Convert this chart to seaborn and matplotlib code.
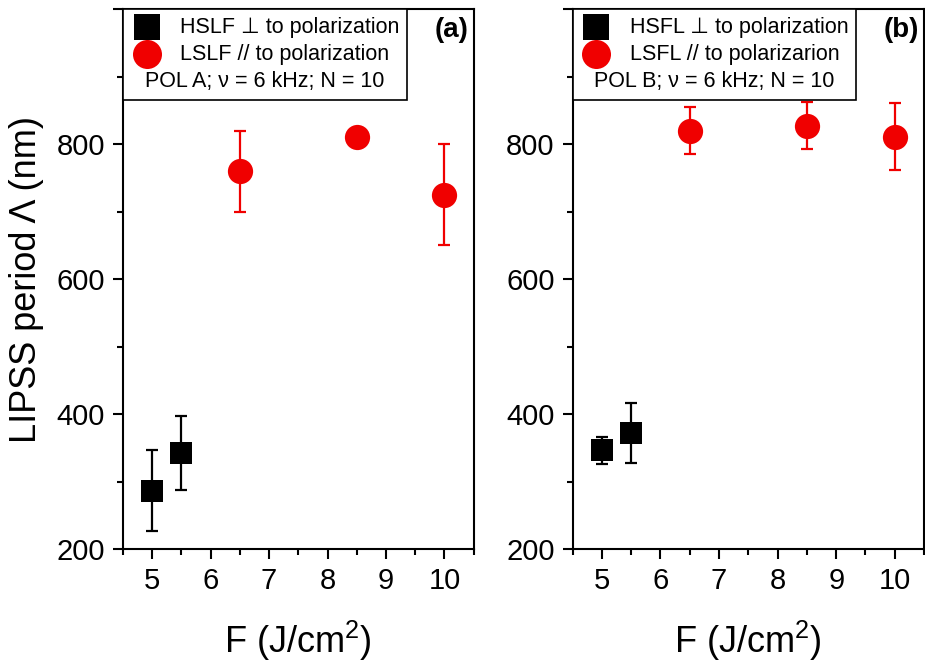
import numpy as np
import pandas as pd
import matplotlib
matplotlib.use("Agg")
import matplotlib.pyplot as plt
import seaborn as sns
from matplotlib.ticker import FixedLocator

# fluence values (J/cm2)
fluence_hsfl = [5.0, 5.5]
fluence_lsfl = [6.5, 8.5, 10.0]

# panel (a) - POL A
a_hsfl = [286, 342]
a_hsfl_err = [60, 55]
a_lsfl = [760, 810, 725]
a_lsfl_err = [60, 8, 75]

# panel (b) - POL B
b_hsfl = [346, 372]
b_hsfl_err = [20, 45]
b_lsfl = [820, 827, 811]
b_lsfl_err = [35, 35, 50]

panels = [
    dict(tag="(a)", hsfl=a_hsfl, hsfl_err=a_hsfl_err, lsfl=a_lsfl, lsfl_err=a_lsfl_err,
         lab1="HSLF \u22a5 to polarization", lab2="LSLF // to polarization",
         note="POL A; \u03bd = 6 kHz; N = 10"),
    dict(tag="(b)", hsfl=b_hsfl, hsfl_err=b_hsfl_err, lsfl=b_lsfl, lsfl_err=b_lsfl_err,
         lab1="HSFL \u22a5 to polarization", lab2="LSFL // to polarizarion",
         note="POL B; \u03bd = 6 kHz; N = 10"),
]

sns.set_theme(style="ticks")
plt.rcParams["font.family"] = ["Liberation Sans", "DejaVu Sans"]
plt.rcParams["text.color"] = "black"
plt.rcParams["axes.labelcolor"] = "black"
plt.rcParams["mathtext.fontset"] = "custom"
plt.rcParams["mathtext.rm"] = "Liberation Sans"
plt.rcParams["mathtext.default"] = "regular"

RED = "#f00000"

fig = plt.figure(figsize=(9.25, 6.65), dpi=100)
boxes = [[0.133, 0.1744, 0.379, 0.812], [0.619, 0.1744, 0.380, 0.812]]

for box, p in zip(boxes, panels):
    ax = fig.add_axes(box)
    hs = pd.DataFrame({"F": fluence_hsfl, "L": p["hsfl"], "e": p["hsfl_err"]})
    ls = pd.DataFrame({"F": fluence_lsfl, "L": p["lsfl"], "e": p["lsfl_err"]})

    ax.errorbar(hs["F"], hs["L"], yerr=hs["e"], fmt="none", ecolor="black",
                elinewidth=1.6, capsize=4.5, capthick=1.6, zorder=2)
    ax.errorbar(ls["F"], ls["L"], yerr=ls["e"], fmt="none", ecolor=RED,
                elinewidth=1.6, capsize=4.5, capthick=1.6, zorder=2)
    sns.scatterplot(data=hs, x="F", y="L", marker="s", s=245, color="black",
                    edgecolor="black", linewidth=0, label=p["lab1"], ax=ax, zorder=3)
    sns.scatterplot(data=ls, x="F", y="L", marker="o", s=330, color=RED,
                    edgecolor=RED, linewidth=0, label=p["lab2"], ax=ax, zorder=3)

    ax.set_xlim(4.5, 10.5)
    ax.set_ylim(200, 1000)
    ax.xaxis.set_major_locator(FixedLocator([5, 6, 7, 8, 9, 10]))
    ax.xaxis.set_minor_locator(FixedLocator([4.5, 5.5, 6.5, 7.5, 8.5, 9.5, 10.5]))
    ax.yaxis.set_major_locator(FixedLocator([200, 400, 600, 800, 1000]))
    ax.yaxis.set_minor_locator(FixedLocator([300, 500, 700, 900]))
    ax.set_yticklabels(["200", "400", "600", "800", ""])
    ax.tick_params(which="major", direction="out", length=7, width=1.5,
                   labelsize=21, color="black", labelcolor="black", pad=6)
    ax.tick_params(which="minor", direction="out", length=4, width=1.5, color="black")
    for sp in ax.spines.values():
        sp.set_visible(True)
        sp.set_linewidth(1.5)
        sp.set_color("black")

    ax.set_xlabel("F (J/cm$^{2}$)", fontsize=26, color="black", labelpad=17)
    ax.set_ylabel("")

    ax.text(0.985, 0.985, p["tag"], transform=ax.transAxes, ha="right", va="top",
            fontsize=20, fontweight="bold", color="black")

    leg = ax.legend(loc="upper left", bbox_to_anchor=(0, 1), borderaxespad=0,
                    fontsize=15.5, title=p["note"], title_fontsize=15.5,
                    frameon=True, fancybox=False, edgecolor="black",
                    framealpha=1, handletextpad=0.8, borderpad=0.35,
                    labelspacing=0.3, handlelength=1.5, markerscale=1.15,
                    labelcolor="black")
    leg.get_title().set_color("black")
    leg.get_frame().set_linewidth(1.2)
    # move the note line below the entries
    kids = leg._legend_box._children
    leg._legend_box._children = [kids[1], kids[0]]

fig.axes[0].set_ylabel("LIPSS period \u039b (nm)", fontsize=26, color="black", labelpad=9)

fig.savefig("out.png", dpi=100)
